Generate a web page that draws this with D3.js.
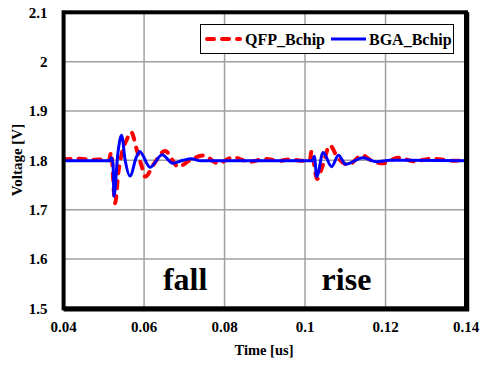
<!DOCTYPE html>
<html><head><meta charset="utf-8">
<script src="https://cdn.jsdelivr.net/npm/d3@7"></script>
<style>
body{margin:0;background:#fff}
svg{display:block}
</style>
</head><body><svg id="c" width="481" height="365"></svg>
<script>
const xTicks=[0.04,0.06,0.08,0.1,0.12,0.14];
const xTickLabels=["0.04","0.06","0.08","0.1","0.12","0.14"];
const yTicks=[1.5,1.6,1.7,1.8,1.9,2.0,2.1];
const yTickLabels=["1.5","1.6","1.7","1.8","1.9","2","2.1"];
const seriesNames=["QFP_Bchip","BGA_Bchip"];
const seriesColors=["#ff0000","#0000ff"];
const qfpTime=[0.040,0.044,0.047,0.050,0.0513,0.0518,0.0528,0.0536,0.0545,0.0557,0.0568,0.0582,0.0594,0.0603,0.0624,0.0652,0.0685,0.0714,0.0747,0.0784,0.0821,0.0862,0.0900,0.0935,0.0965,0.0990,0.1012,0.1016,0.1030,0.1042,0.1062,0.1079,0.1107,0.1142,0.1166,0.1194,0.1231,0.1273,0.1310,0.1335,0.1370,0.1400];
const qfpVolt=[1.802,1.803,1.801,1.802,1.800,1.816,1.713,1.775,1.815,1.842,1.857,1.821,1.788,1.767,1.792,1.819,1.787,1.800,1.810,1.794,1.806,1.797,1.803,1.799,1.802,1.799,1.800,1.818,1.762,1.785,1.830,1.808,1.791,1.810,1.799,1.794,1.805,1.798,1.803,1.802,1.799,1.801];
const bgaTime=[0.040,0.0515,0.0519,0.0523,0.0525,0.0535,0.0544,0.0553,0.0565,0.0581,0.0589,0.0615,0.0645,0.0671,0.0697,0.0718,0.0740,0.1019,0.1023,0.1029,0.1045,0.1066,0.1083,0.1101,0.1144,0.1178,0.1211,0.1400];
const bgaVolt=[1.799,1.799,1.805,1.790,1.727,1.815,1.851,1.800,1.768,1.807,1.818,1.786,1.811,1.794,1.800,1.803,1.799,1.799,1.808,1.767,1.816,1.787,1.810,1.792,1.805,1.797,1.800,1.799];
const annotationText=["fall","rise"];
const annotationTime=[0.0702,0.1103];
const annotationVolt=[1.537,1.537];

const FONT='"Liberation Serif","Times New Roman",serif';
const svg=d3.select("#c");
const x=d3.scaleLinear().domain([0.04,0.14]).range([63.6,466]);
const y=d3.scaleLinear().domain([1.5,2.1]).range([308.3,12.3]);

svg.append("rect").attr("width",481).attr("height",365).attr("fill","#fff");

// grid
const g=svg.append("g");
g.selectAll(".gx").data(xTicks.slice(1,-1)).enter().append("line")
 .attr("x1",d=>x(d)).attr("x2",d=>x(d)).attr("y1",y(1.5)).attr("y2",y(2.1))
 .attr("stroke","#a0a0a0").attr("stroke-width",1.5);
g.selectAll(".gy").data(yTicks.slice(1,-1)).enter().append("line")
 .attr("y1",d=>y(d)).attr("y2",d=>y(d)).attr("x1",x(0.04)).attr("x2",x(0.14))
 .attr("stroke","#a0a0a0").attr("stroke-width",1.5);

// series
svg.append("clipPath").attr("id","cl").append("rect")
 .attr("x",x(0.04)).attr("y",y(2.1)).attr("width",x(0.14)-x(0.04)).attr("height",y(1.5)-y(2.1));
const line=d3.line().x(d=>x(d[0])).y(d=>y(d[1])).curve(d3.curveMonotoneX);
const qfp=qfpTime.map((t,i)=>[t,qfpVolt[i]]);
const bga=bgaTime.map((t,i)=>[t,bgaVolt[i]]);
svg.append("path").attr("d",line(qfp)).attr("fill","none").attr("stroke",seriesColors[0])
 .attr("stroke-width",4).attr("stroke-dasharray","7,8").attr("stroke-linecap","round").attr("clip-path","url(#cl)");
svg.append("path").attr("d",line(bga)).attr("fill","none").attr("stroke",seriesColors[1])
 .attr("stroke-width",3).attr("clip-path","url(#cl)");

// frame
svg.append("rect").attr("x",x(0.04)).attr("y",y(2.1)).attr("width",x(0.14)-x(0.04)).attr("height",y(1.5)-y(2.1))
 .attr("fill","none").attr("stroke","#000").attr("stroke-width",4);
svg.append("path").attr("d",`M${x(0.14)+2},${y(2.1)}V${y(1.5)+2}H${x(0.04)}`)
 .attr("fill","none").attr("stroke","#000").attr("stroke-width",2.5);

function txt(sel){return sel.attr("font-family",FONT).attr("font-weight","bold").attr("fill","#000");}

// tick labels
txt(svg.selectAll(".yl").data(yTicks).enter().append("text"))
 .attr("x",47.5).attr("y",d=>y(d)).attr("dy","0.35em").attr("text-anchor","end")
 .attr("font-size",15).text((d,i)=>yTickLabels[i]);
txt(svg.selectAll(".xl").data(xTicks).enter().append("text"))
 .attr("x",d=>x(d)).attr("y",332).attr("text-anchor","middle")
 .attr("font-size",15).text((d,i)=>xTickLabels[i]);

// axis titles
txt(svg.append("text")).attr("x",264).attr("y",355).attr("text-anchor","middle").attr("font-size",14.5).text("Time [us]");
txt(svg.append("text")).attr("transform","translate(22,160) rotate(-90)").attr("text-anchor","middle").attr("font-size",15).text("Voltage [V]");

// annotations
txt(svg.selectAll(".ann").data(annotationText).enter().append("text"))
 .attr("x",(d,i)=>x(annotationTime[i])).attr("y",(d,i)=>y(annotationVolt[i]))
 .attr("text-anchor","middle").attr("font-size",32).text(d=>d);

// legend
const lg=svg.append("g");
lg.append("rect").attr("x",200.5).attr("y",24.5).attr("width",253).attr("height",29).attr("fill","#fff").attr("stroke","#000").attr("stroke-width",1);
lg.append("line").attr("x1",207).attr("x2",240).attr("y1",39).attr("y2",39).attr("stroke",seriesColors[0])
 .attr("stroke-width",4).attr("stroke-dasharray","7,8").attr("stroke-linecap","round");
txt(lg.append("text")).attr("x",245).attr("y",44.5).attr("font-size",16).text(seriesNames[0]);
lg.append("line").attr("x1",331).attr("x2",366).attr("y1",39).attr("y2",39).attr("stroke",seriesColors[1]).attr("stroke-width",3);
txt(lg.append("text")).attr("x",369).attr("y",44.5).attr("font-size",16).text(seriesNames[1]);
</script>
</body></html>
